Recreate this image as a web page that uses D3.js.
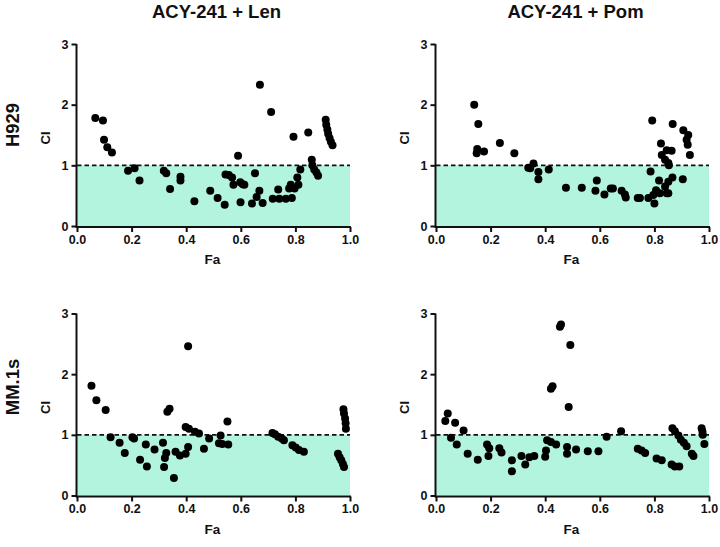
<!DOCTYPE html>
<html><head><meta charset="utf-8">
<script src="https://cdn.jsdelivr.net/npm/d3@7"></script>
<style>body{margin:0;background:#fff}svg{display:block}text{font-family:"Liberation Sans",Arial,sans-serif;font-weight:bold;fill:#111}</style>
</head><body>
<script>
const columnTitles = ["ACY-241 + Len", "ACY-241 + Pom"];
const rowTitles = ["H929", "MM.1s"];
const xTicks = [0, 0.2, 0.4, 0.6, 0.8, 1.0];
const yTicks = [0, 1, 2, 3];
const threshold = 1;

// H929, ACY-241 + Len
const h929LenFa = [0.067,0.095,0.099,0.111,0.128,0.187,0.211,0.229,0.318,0.327,0.341,0.379,0.379,0.430,0.488,0.515,0.541,0.544,0.556,0.568,0.573,0.590,0.598,0.607,0.613,0.599,0.641,0.652,0.658,0.668,0.680,0.670,0.711,0.717,0.737,0.741,0.765,0.777,0.783,0.787,0.797,0.807,0.811,0.818,0.793,0.847,0.860,0.862,0.869,0.877,0.883,0.911,0.913,0.917,0.920,0.925,0.930,0.936];
const h929LenCi = [1.78,1.74,1.42,1.30,1.21,0.91,0.95,0.75,0.91,0.87,0.61,0.81,0.75,0.41,0.58,0.46,0.35,0.85,0.84,0.80,0.68,1.16,0.72,0.69,0.68,0.39,0.37,0.87,0.48,0.58,0.38,2.33,1.88,0.45,0.60,0.45,0.45,0.62,0.68,0.46,0.62,0.80,0.68,0.93,1.47,1.54,1.09,1.00,0.93,0.88,0.83,1.75,1.67,1.59,1.52,1.45,1.39,1.33];

// H929, ACY-241 + Pom
const h929PomFa = [0.140,0.155,0.151,0.149,0.176,0.234,0.287,0.338,0.345,0.357,0.375,0.375,0.413,0.476,0.534,0.589,0.584,0.617,0.640,0.648,0.680,0.692,0.695,0.739,0.747,0.778,0.792,0.786,0.796,0.800,0.806,0.817,0.820,0.824,0.827,0.839,0.839,0.845,0.845,0.851,0.851,0.851,0.853,0.863,0.866,0.867,0.904,0.906,0.918,0.922,0.924,0.930];
const h929PomCi = [2.00,1.68,1.27,1.20,1.23,1.37,1.20,0.96,0.95,1.03,0.89,0.77,0.93,0.63,0.63,0.75,0.58,0.52,0.62,0.62,0.58,0.52,0.47,0.46,0.46,0.46,1.74,0.90,0.51,0.37,0.59,0.75,0.54,1.36,1.17,1.09,0.65,1.25,0.54,1.04,0.73,0.54,1.00,1.24,0.80,1.68,0.77,1.58,1.42,1.34,1.50,1.17];

// MM.1s, ACY-241 + Len
const mm1sLenFa = [0.053,0.071,0.105,0.123,0.156,0.175,0.203,0.209,0.231,0.252,0.256,0.284,0.315,0.319,0.322,0.327,0.331,0.339,0.355,0.361,0.377,0.398,0.407,0.398,0.410,0.407,0.432,0.447,0.465,0.484,0.526,0.520,0.532,0.551,0.554,0.716,0.725,0.737,0.750,0.758,0.789,0.801,0.813,0.831,0.976,0.978,0.982,0.984,0.985,0.956,0.962,0.968,0.974,0.978];
const mm1sLenCi = [1.81,1.57,1.41,0.96,0.87,0.70,0.96,0.94,0.59,0.84,0.48,0.76,0.87,0.47,0.62,0.70,1.38,1.43,0.29,0.72,0.66,0.69,2.46,1.13,1.10,0.80,1.05,1.02,0.77,0.94,0.99,0.86,0.85,1.22,0.84,1.03,1.01,0.97,0.94,0.91,0.83,0.79,0.75,0.72,1.42,1.35,1.27,1.19,1.10,0.69,0.63,0.58,0.52,0.47];

// MM.1s, ACY-241 + Pom
const mm1sPomFa = [0.043,0.034,0.070,0.101,0.055,0.076,0.116,0.153,0.187,0.195,0.192,0.232,0.240,0.278,0.278,0.313,0.327,0.342,0.360,0.400,0.403,0.407,0.421,0.440,0.421,0.427,0.458,0.454,0.492,0.486,0.480,0.480,0.513,0.556,0.595,0.625,0.678,0.739,0.753,0.766,0.808,0.827,0.863,0.875,0.891,0.866,0.875,0.888,0.897,0.908,0.918,0.937,0.943,0.973,0.976,0.977,0.983];
const mm1sPomCi = [1.35,1.23,1.20,1.07,0.95,0.84,0.69,0.59,0.84,0.78,0.65,0.78,0.71,0.58,0.40,0.65,0.51,0.63,0.65,0.64,0.74,0.91,0.88,0.84,1.76,1.80,2.82,2.78,2.48,1.46,0.80,0.69,0.76,0.73,0.73,0.97,1.06,0.77,0.74,0.70,0.61,0.58,0.51,0.48,0.48,1.11,1.06,0.99,0.92,0.87,0.81,0.69,0.65,1.11,1.05,1.00,0.85];

const panels = [
  {row:0,col:0,fa:h929LenFa,ci:h929LenCi},
  {row:0,col:1,fa:h929PomFa,ci:h929PomCi},
  {row:1,col:0,fa:mm1sLenFa,ci:mm1sLenCi},
  {row:1,col:1,fa:mm1sPomFa,ci:mm1sPomCi}
];

const W = 720, H = 547;
const colX = [77, 436], pw = 273;
const rowY = [44, 313.5], ph = 182;

const svg = d3.select("body").append("svg").attr("width", W).attr("height", H);

columnTitles.forEach((t,i)=>{
  svg.append("text").attr("x", colX[i]+pw/2+3).attr("y", 18)
    .attr("text-anchor","middle").attr("font-size", 18.5).text(t);
});
const rowCenters = [125, 387];
rowTitles.forEach((t,i)=>{
  svg.append("text").attr("transform", `translate(19,${rowCenters[i]}) rotate(-90)`)
    .attr("text-anchor","middle").attr("font-size", 18.5).text(t);
});

panels.forEach(p=>{
  const g = svg.append("g").attr("transform", `translate(${colX[p.col]},${rowY[p.row]})`);
  const x = d3.scaleLinear().domain([0,1]).range([0,pw]);
  const y = d3.scaleLinear().domain([0,3]).range([ph,0]);

  g.append("rect").attr("x", x(0)).attr("y", y(threshold)).attr("width", x(1)-x(0))
    .attr("height", y(0)-y(threshold)).attr("fill", "#b3f4df");
  g.append("line").attr("x1", x(0)).attr("x2", x(1)).attr("y1", y(threshold)).attr("y2", y(threshold))
    .attr("stroke","#111").attr("stroke-width",1.6).attr("stroke-dasharray","4.5,3");

  const xa = g.append("g").attr("transform", `translate(0,${ph+1})`)
    .call(d3.axisBottom(x).tickValues(xTicks).tickFormat(d3.format(".1f")).tickSizeOuter(0).tickSize(5).tickPadding(3));
  const ya = g.append("g").attr("transform", `translate(-0.5,0)`)
    .call(d3.axisLeft(y).tickValues(yTicks).tickFormat(d3.format("d")).tickSizeOuter(0).tickSize(5).tickPadding(3));
  [xa,ya].forEach(a=>{
    a.select(".domain").attr("stroke","#111").attr("stroke-width",2);
    a.selectAll(".tick line").attr("stroke","#111").attr("stroke-width",2);
    a.selectAll(".tick text").attr("font-size",12.5).attr("font-family",'"Liberation Sans",Arial,sans-serif').attr("font-weight","bold").attr("fill","#111");
  });
  xa.select(".domain").attr("d", `M${x(0)-1},0H${x(1)+1}`);
  ya.select(".domain").attr("d", `M0,${y(3)}V${y(0)+2}`);

  g.selectAll("circle.pt").data(d3.range(p.fa.length)).join("circle").attr("class","pt")
    .attr("cx", i=>x(p.fa[i])).attr("cy", i=>y(p.ci[i])).attr("r", 4).attr("fill","#000");

  g.append("text").attr("transform", `translate(-27,${ph/2+3}) rotate(-90)`)
    .attr("text-anchor","middle").attr("font-size",13).text("CI");
  g.append("text").attr("x", pw/2-1).attr("y", ph+38)
    .attr("text-anchor","middle").attr("font-size",13.5).text("Fa");
});
</script>
</body></html>
